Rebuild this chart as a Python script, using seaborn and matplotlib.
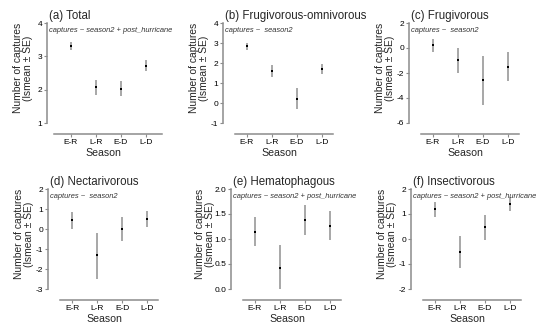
import matplotlib
matplotlib.use('Agg')
import matplotlib.pyplot as plt
import numpy as np
import pandas as pd
import seaborn as sns

# ---- data (least-squares means +/- SE) ----
seasons = ['E-R', 'L-R', 'E-D', 'L-D']

titles = ['(a) Total', '(b) Frugivorous-omnivorous', '(c) Frugivorous',
          '(d) Nectarivorous', '(e) Hematophagous', '(f) Insectivorous']
formulas = ['captures ~ season2 + post_hurricane', 'captures ~  season2',
            'captures ~  season2', 'captures ~  season2',
            'captures ~ season2 + post_hurricane', 'captures ~ season2 + post_hurricane']

total_mean = [3.30, 2.07, 2.03, 2.72]
total_lo = [3.18, 1.85, 1.80, 2.56]
total_hi = [3.42, 2.30, 2.25, 2.88]

frugomn_mean = [2.83, 1.62, 0.22, 1.72]
frugomn_lo = [2.67, 1.30, -0.28, 1.45]
frugomn_hi = [3.00, 1.92, 0.75, 1.97]

frug_mean = [0.27, -1.00, -2.53, -1.52]
frug_lo = [-0.32, -2.00, -4.53, -2.67]
frug_hi = [0.75, 0.00, -0.60, -0.35]

nect_mean = [0.43, -1.30, 0.00, 0.50]
nect_lo = [0.02, -2.50, -0.58, 0.08]
nect_hi = [0.85, -0.20, 0.58, 0.92]

hema_mean = [1.15, 0.43, 1.38, 1.27]
hema_lo = [0.86, 0.00, 1.08, 0.99]
hema_hi = [1.44, 0.89, 1.69, 1.56]

insect_mean = [1.20, -0.50, 0.47, 1.40]
insect_lo = [0.90, -1.15, -0.02, 1.12]
insect_hi = [1.48, 0.13, 0.95, 1.67]

yticks = [np.arange(1, 5, 1), np.arange(-1, 5, 1), np.arange(-6, 3, 2),
          np.arange(-3, 3, 1), np.arange(0, 2.01, 0.5), np.arange(-2, 3, 1)]

panels = [(total_mean, total_lo, total_hi), (frugomn_mean, frugomn_lo, frugomn_hi),
          (frug_mean, frug_lo, frug_hi), (nect_mean, nect_lo, nect_hi),
          (hema_mean, hema_lo, hema_hi), (insect_mean, insect_lo, insect_hi)]

# ---- layout (pixels in a 550x333 canvas) ----
W, H = 550, 333
lefts = [47, 223, 409, 48, 231, 411]
tops = [23, 23, 23, 189, 189, 189]
ax_w, ax_h = 113, 111
xspine = [(-0.67, 3.65)] + [(-0.5, 3.45)] * 5
ylab_x = [-14, -14, -14, -14, -16, -14]

sns.set_theme(style='ticks')
plt.rcParams['font.family'] = ['Liberation Sans', 'DejaVu Sans']
spine_col = '#8c8c8c'

fig = plt.figure(figsize=(W / 100, H / 100), dpi=100)

for i, (mean, lo, hi) in enumerate(panels):
    ax = fig.add_axes([lefts[i] / W, (H - tops[i] - ax_h) / H, ax_w / W, ax_h / H])
    df = pd.DataFrame({'season': seasons, 'mean': mean, 'lo': lo, 'hi': hi})

    sns.scatterplot(data=df, x='season', y='mean', marker='s', s=2.5, color='black',
                    linewidth=0, zorder=3, ax=ax)
    ax.vlines(df['season'], df['lo'], df['hi'], color='#8f8f8f', lw=1.1, zorder=2)

    yt = yticks[i]
    span = yt[-1] - yt[0]
    ax.set_ylim(yt[0] - 0.11 * span, yt[-1])
    ax.set_yticks(yt)
    if i == 4:
        ax.set_yticklabels([f'{v:.1f}' for v in yt])
    else:
        ax.set_yticklabels([f'{int(v)}' for v in yt])
    ax.set_xlim(-0.96, -0.96 + ax_w / 25)

    for s in ['top', 'right']:
        ax.spines[s].set_visible(False)
    ax.spines['left'].set_bounds(yt[0], yt[-1])
    ax.spines['bottom'].set_bounds(*xspine[i])
    for s in ['left', 'bottom']:
        ax.spines[s].set_color(spine_col)
        ax.spines[s].set_linewidth(1.1)
    ax.tick_params(axis='both', length=2.2, width=0.8, color=spine_col,
                   labelsize=6, pad=1.2, labelcolor='black')

    ax.set_xlabel('Season', fontsize=7.6, labelpad=1.5)
    ax.set_ylabel('Number of captures\n(lsmean ± SE)', fontsize=7.4, linespacing=0.95)
    ax.yaxis.set_label_coords(ylab_x[i] / ax_w, 0.595)

    ax.annotate(titles[i], xy=(0, 1), xycoords='axes fraction', xytext=(1.2, 2.9),
                textcoords='offset points', fontsize=8.3, va='baseline', ha='left')
    ax.annotate(formulas[i], xy=(0, 1), xycoords='axes fraction', xytext=(1.5, -6.5),
                textcoords='offset points', fontsize=5.4, style='italic',
                color='#333333', va='baseline', ha='left')

fig.savefig('out.png', dpi=100)
